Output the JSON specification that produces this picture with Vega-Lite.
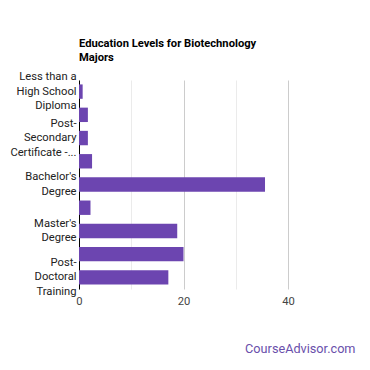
{
  "$schema": "https://vega.github.io/schema/vega-lite/v6.json",
  "width": 209,
  "height": 209,
  "autosize": {"type": "none"},
  "padding": {"left": 79, "top": 80, "right": 82, "bottom": 81},
  "background": "white",
  "title": {
    "text": ["Education Levels for Biotechnology", "Majors"],
    "anchor": "start",
    "frame": "group",
    "font": "Roboto",
    "fontSize": 11.2,
    "fontWeight": "bold",
    "color": "#000000",
    "lineHeight": 14,
    "offset": 7
  },
  "data": {
    "values": [
      {"level": "Less than a High School Diploma", "pct": 0.7},
      {"level": "High School Diploma", "pct": 1.7},
      {"level": "Post-Secondary Certificate", "pct": 1.7},
      {"level": "Associate's Degree", "pct": 2.5},
      {"level": "Bachelor's Degree", "pct": 35.6},
      {"level": "Post-Baccalaureate Certificate", "pct": 2.2},
      {"level": "Master's Degree", "pct": 18.8},
      {"level": "Doctoral Degree", "pct": 20.0},
      {"level": "Post-Doctoral Training", "pct": 17.1}
    ]
  },
  "mark": {"type": "bar", "color": "#6c45b0"},
  "encoding": {
    "y": {
      "field": "level",
      "type": "nominal",
      "sort": null,
      "scale": {"paddingInner": 0.38, "paddingOuter": 0.19},
      "axis": {
        "title": null,
        "domainColor": "#000000",
        "domainWidth": 1,
        "ticks": false,
        "grid": false,
        "labelPadding": 3,
        "labelFont": "Roboto",
        "labelFontSize": 11.2,
        "labelColor": "#222222",
        "labelLineHeight": 14.5,
        "labelLimit": 120,
        "labelOverlap": false,
        "labelBound": false,
        "labelOffset": {"condition": {"test": "datum.value == \"Bachelor's Degree\" || datum.value == \"Master's Degree\"", "value": -7.25}, "value": -14.5},
        "labelExpr": "datum.value == 'Less than a High School Diploma' ? ['Less than a', 'High School', 'Diploma'] : datum.value == 'Post-Secondary Certificate' ? ['Post-', 'Secondary', 'Certificate -...'] : datum.value == \"Bachelor's Degree\" ? [\"Bachelor's\", 'Degree'] : datum.value == \"Master's Degree\" ? [\"Master's\", 'Degree'] : datum.value == 'Post-Doctoral Training' ? ['Post-', 'Doctoral', 'Training'] : ''"
      }
    },
    "x": {
      "field": "pct",
      "type": "quantitative",
      "scale": {"domain": [0, 40], "nice": false},
      "axis": {
        "title": "CourseAdvisor.com",
        "titleX": 276,
        "titleY": 59,
        "titleAlign": "right",
        "titleBaseline": "middle",
        "titleColor": "#6a4fab",
        "titleFont": "Roboto",
        "titleFontSize": 12.7,
        "titleFontWeight": "normal",
        "values": [0, 10, 20, 30, 40],
        "labelExpr": "datum.value % 20 == 0 ? datum.label : ''",
        "labelFlush": false,
        "ticks": false,
        "domain": false,
        "labelPadding": 6,
        "labelFont": "Roboto",
        "labelFontSize": 11.2,
        "labelColor": "#444444",
        "gridColor": {"condition": {"test": "datum.value % 20 == 0", "value": "#cccccc"}, "value": "#ebebeb"}
      }
    }
  },
  "config": {"view": {"stroke": null}}
}
